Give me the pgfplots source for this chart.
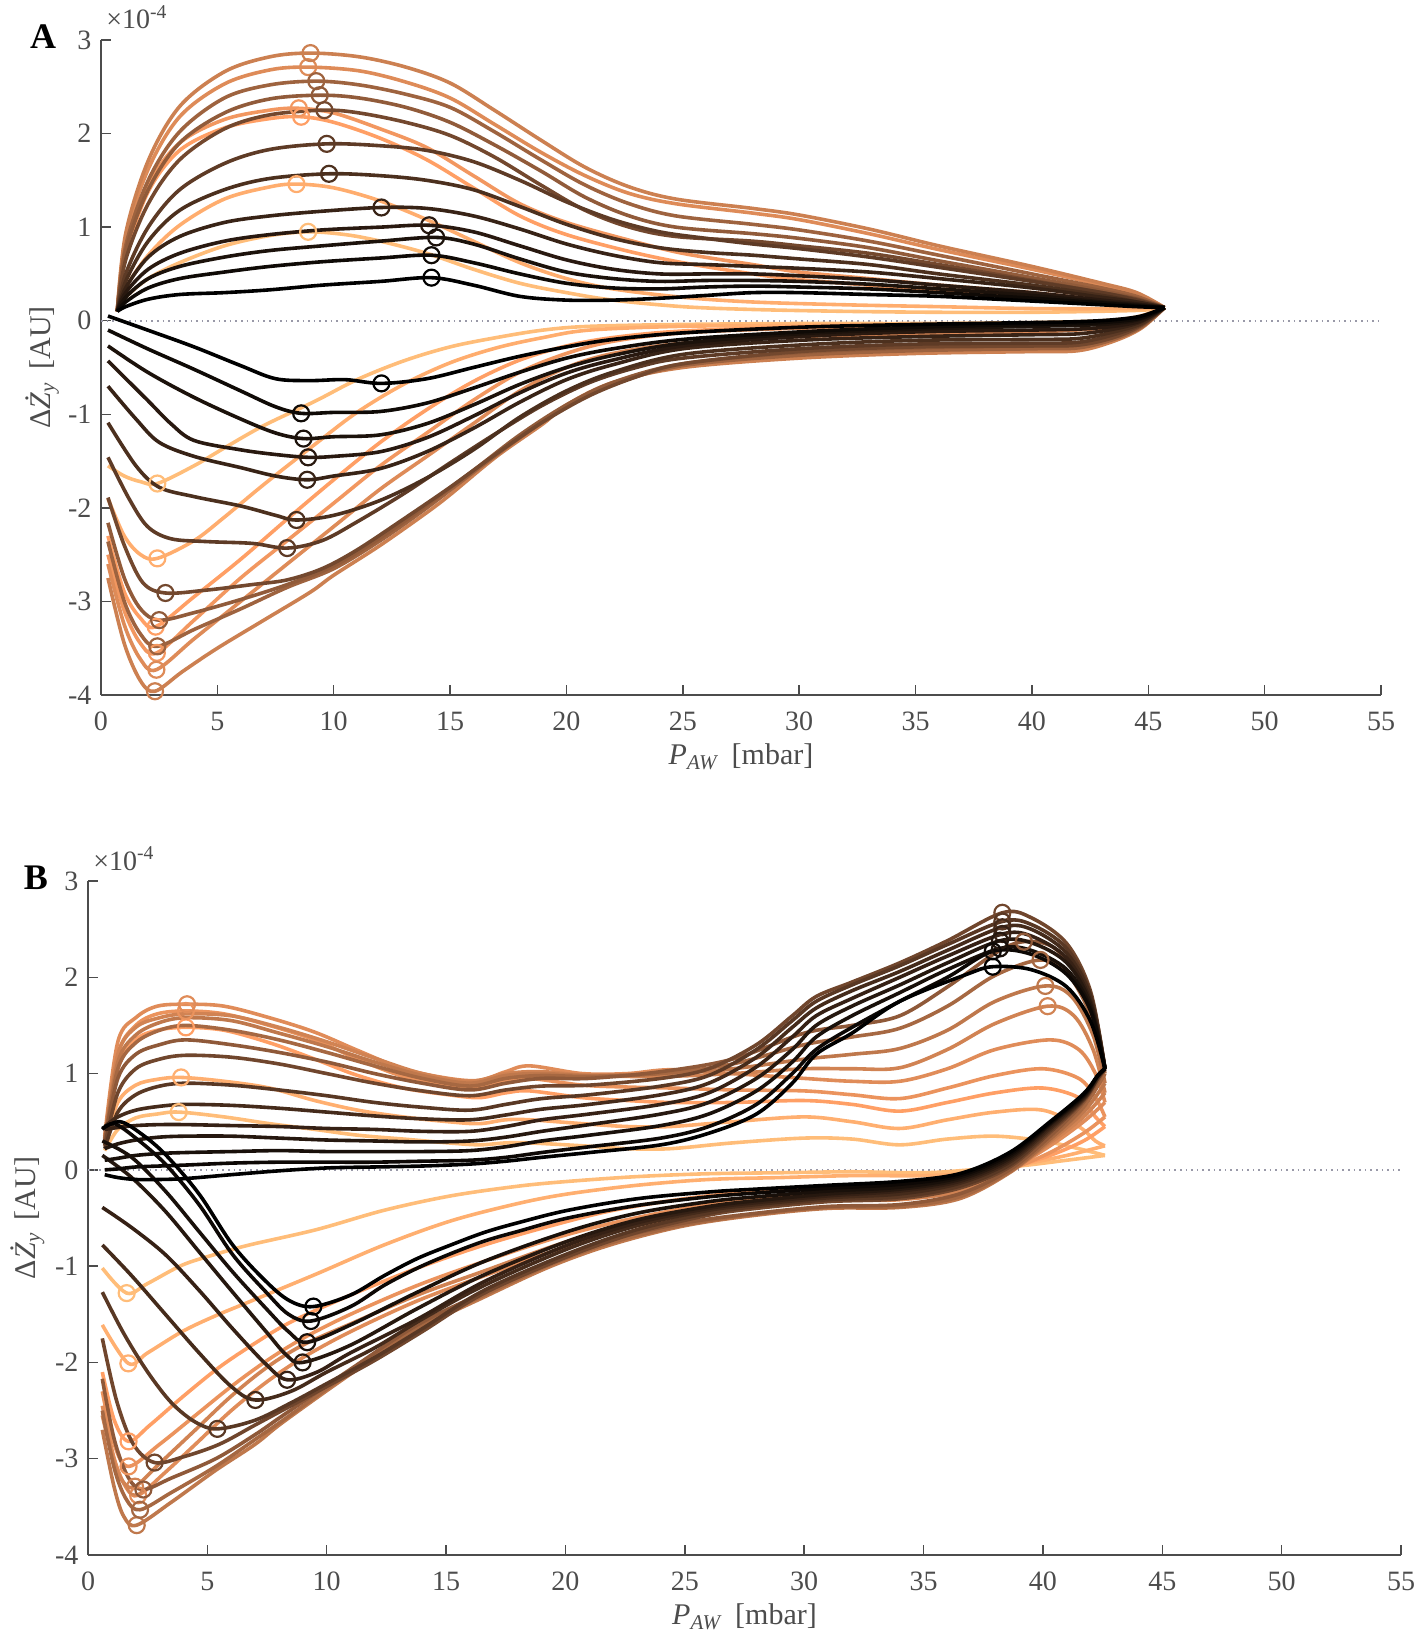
\documentclass[border=0pt]{standalone}
\usepackage{pgfplots}
\pgfplotsset{compat=1.18}
\usepackage{fontspec}
\setmainfont{Liberation Serif}
\definecolor{cuMid}{rgb}{1,0.625,0.398}
\definecolor{cuLight}{rgb}{1,0.7812,0.4975}
\definecolor{axgray}{rgb}{0.3,0.3,0.3}
\definecolor{zerodot}{rgb}{0.6,0.6,0.66}
% panel A colours (copper map)
\colorlet{a0}{black}
\colorlet{a1}{cuMid!6!black}
\colorlet{a2}{cuMid!11!black}
\colorlet{a3}{cuMid!16!black}
\colorlet{a4}{cuMid!22!black}
\colorlet{a5}{cuMid!30!black}
\colorlet{a6}{cuMid!37!black}
\colorlet{a7}{cuMid!45!black}
\colorlet{a8}{cuMid!57!black}
\colorlet{a9}{cuMid!62!black}
\colorlet{a10}{cuMid!80!black}
\colorlet{a11}{cuMid!87!black}
\colorlet{a12}{cuMid!95!black}
\colorlet{a13}{cuMid}
\colorlet{a14}{cuLight!35!cuMid}
\colorlet{a15}{cuLight!75!cuMid}
% panel B colours
\colorlet{b0}{black}
\colorlet{b1}{cuMid!5!black}
\colorlet{b2}{cuMid!10!black}
\colorlet{b3}{cuMid!15!black}
\colorlet{b4}{cuMid!21!black}
\colorlet{b5}{cuMid!27!black}
\colorlet{b6}{cuMid!35!black}
\colorlet{b7}{cuMid!44!black}
\colorlet{b8}{cuMid!56!black}
\colorlet{b9}{cuMid!65!black}
\colorlet{b10}{cuMid!75!black}
\colorlet{b11}{cuMid!82!black}
\colorlet{b12}{cuMid!88!black}
\colorlet{b13}{cuMid!92!black}
\colorlet{b14}{cuMid}
\colorlet{b15}{cuLight!40!cuMid}
\colorlet{b16}{cuLight!75!cuMid}
\pgfplotsset{
  panel/.style={
    scale only axis,
    xmin=0, xmax=55, ymin=-4, ymax=3,
    axis x line*=bottom, axis y line*=left,
    xtick={0,5,10,15,20,25,30,35,40,45,50,55},
    xticklabels={0,5,10,15,20,25,30,35,40,45,50,55},
    ytick={-4,-3,-2,-1,0,1,2,3},
    yticklabels={-4,-3,-2,-1,0,1,2,3},
    tick align=inside,
    major tick length=5pt,
    axis line style={draw=axgray, line width=0.75pt},
    tick style={draw=axgray, line width=0.75pt},
    tick label style={font=\fontsize{14}{16}\selectfont, text=axgray},
    xticklabel style={yshift=-5pt},
    yticklabel style={xshift=-1.3pt},
    xlabel={\textit{P}\textsubscript{\textit{AW}}\, [mbar]},
    ylabel={Δ\textit{Ż}\textsubscript{\textit{y}}\, [AU]},
    xlabel style={at={(axis description cs:0.5,0)}, anchor=north, yshift=-21pt,
      font=\fontsize{15}{18}\selectfont, text=axgray},
    ylabel style={at={(axis description cs:-0.046,0.5)}, anchor=center,
      font=\fontsize{15}{18}\selectfont, text=axgray},
  },
  cv/.style={color=#1, smooth, tension=0.55, line width=1.8pt, mark=none},
  mk/.style={color=#1, only marks, mark=o, mark size=4pt, line width=1.1pt},
}
\newcommand{\C}[2]{\addplot[cv=#1] coordinates {#2};}
\newcommand{\M}[2]{\addplot[mk=#1] coordinates {#2};}
\begin{document}
\begin{tikzpicture}
\useasboundingbox (0,0) rectangle (712.5pt,822pt);
%================ PANEL A ================
\begin{axis}[panel, name=A, at={(50.5pt,474.5pt)}, anchor=south west, width=640pt, height=327.5pt]
\addplot[color=zerodot, dotted, line width=0.8pt] coordinates {(0,0) (55,0)};
% t=1.00
\C{a15}{(0.7,0.1) (1.06,0.25) (2.03,0.45) (3.38,0.62) (5.3,0.8) (7.25,0.91) (8.9,0.95) (10.5,0.92) (12,0.85) (14,0.72) (16,0.55) (18,0.4) (20,0.3) (22,0.22) (25,0.15) (28,0.12) (32,0.1) (36,0.09) (40,0.09) (44.5,0.11) (45.7,0.14)}
\C{a15}{(0.3,-1.55) (1,-1.66) (1.7,-1.72) (2.42,-1.74) (4,-1.55) (5.3,-1.36) (7,-1.12) (9.2,-0.86) (11,-0.63) (13,-0.43) (15,-0.28) (17,-0.18) (19,-0.1) (21,-0.06) (25,-0.04) (30,-0.03) (35,-0.03) (40,-0.02) (43,0.0) (44.5,0.04) (45.7,0.14)}
% t=0.95
\C{a14}{(0.7,0.1) (1.06,0.35) (2.03,0.7) (3.38,1.02) (5.3,1.3) (7.25,1.43) (8.4,1.46) (10,1.42) (12,1.28) (14,1.08) (16,0.85) (18,0.62) (20,0.45) (22,0.34) (25,0.25) (28,0.2) (32,0.17) (36,0.15) (40,0.13) (44.5,0.13) (45.7,0.14)}
\C{a14}{(0.3,-1.9) (1,-2.3) (1.7,-2.5) (2.42,-2.54) (4,-2.35) (5.3,-2.1) (7,-1.75) (9.2,-1.32) (11,-0.98) (13,-0.68) (15,-0.45) (17,-0.29) (19,-0.18) (21,-0.1) (25,-0.06) (30,-0.05) (35,-0.04) (40,-0.03) (43,-0.01) (44.5,0.03) (45.7,0.14)}
% t=0.90
\C{a13}{(0.7,0.1) (1.06,0.7) (2.03,1.38) (3.38,1.82) (5.3,2.06) (7.25,2.16) (8.6,2.18) (10,2.12) (12,1.95) (14,1.72) (16,1.42) (18,1.12) (20,0.92) (22.7,0.74) (25,0.62) (28,0.5) (30,0.44) (33,0.38) (36,0.32) (40,0.25) (43,0.2) (44.5,0.17) (45.7,0.14)}
\C{a13}{(0.3,-2.3) (1,-2.9) (1.7,-3.18) (2.35,-3.27) (4,-2.95) (6,-2.55) (8,-2.12) (10,-1.7) (12,-1.3) (14,-0.95) (16,-0.65) (18,-0.42) (20,-0.27) (22,-0.18) (25,-0.11) (30,-0.07) (35,-0.05) (40,-0.04) (43,-0.02) (44.5,0.03) (45.7,0.14)}
% t=0.85
\C{a12}{(0.7,0.1) (1.06,0.75) (2.03,1.45) (3.38,1.9) (5.3,2.15) (7.25,2.25) (8.5,2.27) (10,2.22) (12,2.05) (14,1.85) (16,1.55) (18,1.25) (20,1.05) (22.7,0.86) (25,0.72) (28,0.6) (30,0.52) (33,0.45) (36,0.38) (40,0.3) (43,0.22) (44.5,0.18) (45.7,0.14)}
\C{a12}{(0.3,-2.5) (1,-3.1) (1.7,-3.45) (2.4,-3.55) (4,-3.2) (6,-2.75) (8,-2.35) (10,-1.95) (12,-1.55) (14,-1.2) (16,-0.85) (18,-0.55) (20,-0.35) (22,-0.22) (25,-0.13) (30,-0.08) (35,-0.06) (40,-0.05) (43,-0.03) (44.5,0.02) (45.7,0.14)}
% t=0.80
\C{a11}{(0.7,0.1) (1.06,0.88) (2.03,1.62) (3.38,2.18) (5.3,2.53) (7.25,2.68) (8.9,2.71) (11.1,2.67) (13.1,2.55) (15,2.38) (16.9,2.1) (18.9,1.8) (20.8,1.55) (22.7,1.36) (24.7,1.25) (28,1.15) (30,1.08) (33,0.93) (36,0.76) (40,0.55) (43,0.38) (44.5,0.28) (45.7,0.14)}
\C{a11}{(0.3,-2.6) (1,-3.25) (1.7,-3.62) (2.38,-3.73) (4,-3.4) (6,-3.0) (8,-2.6) (10,-2.2) (12,-1.8) (14,-1.45) (16,-1.1) (18,-0.75) (20,-0.5) (22,-0.35) (25,-0.24) (30,-0.17) (35,-0.14) (40,-0.12) (43,-0.08) (44.5,-0.02) (45.7,0.14)}
% t=0.75
\C{a10}{(0.7,0.1) (1.06,0.93) (2.03,1.71) (3.38,2.29) (5.3,2.66) (7.25,2.82) (9,2.86) (11.1,2.82) (13.1,2.71) (15,2.54) (16.9,2.25) (18.9,1.93) (20.8,1.64) (22.7,1.43) (24.7,1.3) (28,1.2) (30,1.13) (33,0.98) (36,0.8) (40,0.58) (43,0.4) (44.5,0.3) (45.7,0.14)}
\C{a10}{(0.3,-2.75) (1,-3.45) (1.7,-3.85) (2.32,-3.96) (3.5,-3.75) (5,-3.5) (7,-3.2) (9,-2.9) (10,-2.72) (12,-2.4) (14,-2.05) (15,-1.86) (17,-1.45) (19,-1.1) (20,-0.9) (22,-0.66) (25,-0.5) (30,-0.4) (35,-0.35) (40,-0.33) (42,-0.32) (43.5,-0.22) (44.7,-0.08) (45.7,0.14)}
% t=0.70
\C{a9}{(0.7,0.1) (1.06,0.8) (2.03,1.5) (3.38,2.02) (5.3,2.38) (7.25,2.52) (9.25,2.56) (11.1,2.52) (13.1,2.42) (15,2.28) (16.9,2.02) (18.9,1.72) (20.8,1.45) (22.7,1.25) (24.7,1.12) (28,1.03) (30,0.97) (33,0.85) (36,0.7) (40,0.5) (43,0.35) (44.5,0.26) (45.7,0.14)}
\C{a9}{(0.3,-2.36) (1,-3.0) (1.7,-3.35) (2.42,-3.48) (4,-3.3) (6,-3.08) (8,-2.85) (10,-2.65) (12,-2.35) (14,-2.0) (16,-1.62) (18,-1.25) (20,-0.92) (22,-0.68) (25,-0.48) (30,-0.37) (35,-0.32) (40,-0.3) (42,-0.29) (43.5,-0.2) (44.7,-0.07) (45.7,0.14)}
% t=0.65
\C{a8}{(0.7,0.1) (1.06,0.75) (2.03,1.4) (3.38,1.9) (5.3,2.22) (7.25,2.37) (9.4,2.41) (11.1,2.38) (13.1,2.28) (15,2.12) (16.9,1.88) (18.9,1.6) (20.8,1.32) (22.7,1.12) (24.7,1.0) (28,0.93) (30,0.88) (33,0.78) (36,0.64) (40,0.46) (43,0.32) (44.5,0.24) (45.7,0.14)}
\C{a8}{(0.3,-2.16) (1,-2.75) (1.7,-3.08) (2.5,-3.2) (4,-3.12) (6,-2.98) (8,-2.82) (10,-2.62) (12,-2.32) (14,-1.97) (16,-1.6) (18,-1.22) (20,-0.9) (22,-0.66) (25,-0.46) (30,-0.34) (35,-0.29) (40,-0.27) (42,-0.26) (43.5,-0.18) (44.7,-0.06) (45.7,0.14)}
% t=0.55
\C{a7}{(0.7,0.1) (1.06,0.65) (2.03,1.25) (3.38,1.72) (5.3,2.05) (7.25,2.2) (9.6,2.25) (11.1,2.22) (13.1,2.12) (15,1.98) (16.9,1.75) (18.9,1.45) (20.8,1.18) (22.7,1.0) (24.7,0.9) (28,0.85) (30,0.8) (33,0.72) (36,0.6) (40,0.43) (43,0.3) (44.5,0.23) (45.7,0.14)}
\C{a7}{(0.3,-1.89) (1,-2.4) (1.8,-2.8) (2.77,-2.91) (4.5,-2.88) (6.5,-2.82) (8,-2.77) (9.5,-2.65) (11,-2.45) (13,-2.12) (15,-1.78) (17,-1.42) (19,-1.08) (21,-0.8) (23,-0.6) (25,-0.46) (30,-0.33) (35,-0.28) (40,-0.27) (42,-0.26) (43.5,-0.18) (44.7,-0.05) (45.7,0.14)}
% t=0.45
\C{a6}{(0.7,0.1) (1.06,0.5) (2.03,1.0) (3.38,1.4) (5.3,1.68) (7.25,1.83) (9.7,1.89) (12,1.87) (14,1.82) (16,1.7) (18,1.5) (20,1.27) (22,1.08) (24,0.95) (26,0.88) (28,0.82) (30,0.77) (33,0.68) (36,0.57) (40,0.42) (43,0.3) (44.5,0.22) (45.7,0.14)}
\C{a6}{(0.3,-1.46) (1.2,-1.9) (2,-2.2) (3,-2.33) (4.5,-2.36) (6.5,-2.38) (8,-2.43) (9.5,-2.35) (11,-2.15) (13,-1.85) (15,-1.52) (17,-1.2) (19,-0.9) (21,-0.66) (23,-0.5) (25,-0.4) (30,-0.3) (35,-0.25) (40,-0.24) (42,-0.23) (43.5,-0.15) (44.7,-0.04) (45.7,0.14)}
% t=0.38
\C{a5}{(0.7,0.1) (1.06,0.42) (2.03,0.85) (3.38,1.18) (5.3,1.4) (7.25,1.52) (9.8,1.57) (12,1.55) (14,1.5) (16,1.4) (18,1.22) (20,1.03) (22,0.88) (24,0.78) (26,0.73) (28,0.7) (30,0.66) (33,0.6) (36,0.5) (40,0.38) (43,0.27) (44.5,0.2) (45.7,0.14)}
\C{a5}{(0.3,-1.09) (1.5,-1.55) (2.5,-1.78) (4,-1.88) (6,-1.98) (7.5,-2.08) (8.4,-2.13) (10,-2.08) (12,-1.92) (14,-1.68) (16,-1.38) (18,-1.03) (20,-0.75) (22,-0.55) (25,-0.36) (30,-0.26) (35,-0.21) (40,-0.2) (42,-0.19) (43.5,-0.12) (44.7,-0.03) (45.7,0.14)}
% t=0.30
\C{a4}{(0.7,0.1) (1.06,0.35) (2.03,0.68) (3.38,0.9) (5.3,1.05) (7.25,1.12) (9.5,1.17) (12.05,1.21) (14,1.2) (16,1.12) (18,0.98) (20,0.82) (22,0.7) (24,0.62) (26,0.6) (28,0.58) (30,0.56) (33,0.52) (36,0.45) (40,0.35) (43,0.25) (44.5,0.2) (45.7,0.14)}
\C{a4}{(0.3,-0.7) (1.5,-1.05) (2.5,-1.3) (4,-1.45) (6,-1.57) (7.5,-1.66) (8.86,-1.7) (10,-1.66) (12,-1.58) (14,-1.4) (16,-1.15) (18,-0.87) (20,-0.63) (22,-0.47) (25,-0.3) (30,-0.21) (35,-0.17) (40,-0.15) (42,-0.14) (43.5,-0.09) (44.7,-0.01) (45.7,0.14)}
% t=0.22
\C{a3}{(0.7,0.1) (1.06,0.3) (2.03,0.55) (3.38,0.72) (5.3,0.85) (7.25,0.92) (9.5,0.97) (12,1.0) (14.1,1.02) (16,0.95) (18,0.8) (20,0.65) (22,0.55) (24,0.5) (26,0.5) (28,0.5) (30,0.48) (33,0.44) (36,0.38) (40,0.3) (43,0.22) (44.5,0.18) (45.7,0.14)}
\C{a3}{(0.3,-0.43) (2,-0.85) (3,-1.1) (4,-1.28) (6,-1.38) (7.5,-1.43) (8.9,-1.46) (10,-1.45) (12,-1.4) (14,-1.25) (16,-1.02) (18,-0.77) (20,-0.56) (22,-0.42) (25,-0.27) (30,-0.17) (35,-0.12) (40,-0.1) (42,-0.09) (43.5,-0.06) (44.7,0.0) (45.7,0.14)}
% t=0.16
\C{a2}{(0.7,0.1) (1.06,0.25) (2.03,0.45) (3.38,0.58) (5.3,0.68) (7.25,0.75) (9.5,0.8) (12,0.85) (14.4,0.89) (16,0.82) (18,0.66) (20,0.52) (22,0.45) (24,0.42) (26,0.43) (28,0.43) (30,0.42) (33,0.39) (36,0.34) (40,0.27) (43,0.2) (44.5,0.17) (45.7,0.14)}
\C{a2}{(0.3,-0.27) (2,-0.55) (4,-0.82) (6,-1.05) (7.5,-1.2) (8.7,-1.26) (10,-1.24) (12,-1.22) (14,-1.1) (16,-0.9) (18,-0.68) (20,-0.5) (22,-0.37) (25,-0.24) (30,-0.14) (35,-0.09) (40,-0.06) (42,-0.05) (43.5,-0.03) (44.7,0.02) (45.7,0.14)}
% t=0.08
\C{a1}{(0.7,0.1) (1.06,0.2) (2.03,0.35) (3.38,0.45) (5.3,0.52) (7.25,0.58) (9.5,0.63) (12,0.67) (14.2,0.7) (16,0.62) (18,0.5) (20,0.4) (22,0.35) (24,0.34) (26,0.36) (28,0.37) (30,0.36) (33,0.34) (36,0.3) (40,0.24) (43,0.19) (44.5,0.16) (45.7,0.14)}
\C{a1}{(0.3,-0.1) (2,-0.3) (4,-0.52) (6,-0.75) (7.5,-0.92) (8.6,-0.99) (10,-0.98) (12,-0.97) (14,-0.88) (16,-0.72) (18,-0.55) (20,-0.4) (22,-0.3) (25,-0.2) (30,-0.12) (35,-0.07) (40,-0.04) (42,-0.03) (43.5,-0.01) (44.7,0.03) (45.7,0.14)}
% t=0
\C{a0}{(0.7,0.1) (1.06,0.15) (2.03,0.23) (3.38,0.28) (5.3,0.3) (7.25,0.33) (9.5,0.38) (12,0.42) (14.2,0.46) (16,0.38) (18,0.26) (20,0.22) (22,0.22) (24,0.24) (26,0.27) (28,0.3) (30,0.3) (33,0.28) (36,0.26) (40,0.21) (43,0.17) (44.5,0.15) (45.7,0.14)}
\C{a0}{(0.3,0.05) (2,-0.1) (4,-0.28) (6,-0.48) (7.5,-0.62) (9,-0.64) (10.5,-0.63) (12.05,-0.67) (14,-0.62) (16,-0.5) (18,-0.38) (20,-0.28) (22,-0.2) (25,-0.13) (30,-0.07) (35,-0.04) (40,-0.02) (42,-0.01) (43.5,0.01) (44.7,0.05) (45.7,0.14)}
% markers A
\M{a15}{(8.9,0.95)} \M{a15}{(2.42,-1.74)}
\M{a14}{(8.4,1.46)} \M{a14}{(2.42,-2.54)}
\M{a13}{(8.6,2.18)} \M{a13}{(2.35,-3.27)}
\M{a12}{(8.5,2.27)} \M{a12}{(2.4,-3.55)}
\M{a11}{(8.9,2.71)} \M{a11}{(2.38,-3.73)}
\M{a10}{(9,2.86)} \M{a10}{(2.32,-3.96)}
\M{a9}{(9.25,2.56)} \M{a9}{(2.42,-3.48)}
\M{a8}{(9.4,2.41)} \M{a8}{(2.5,-3.2)}
\M{a7}{(9.6,2.25)} \M{a7}{(2.77,-2.91)}
\M{a6}{(9.7,1.89)} \M{a6}{(8,-2.43)}
\M{a5}{(9.8,1.57)} \M{a5}{(8.4,-2.13)}
\M{a4}{(12.05,1.21)} \M{a4}{(8.86,-1.7)}
\M{a3}{(14.1,1.02)} \M{a3}{(8.9,-1.46)}
\M{a2}{(14.4,0.89)} \M{a2}{(8.7,-1.26)}
\M{a1}{(14.2,0.7)} \M{a1}{(8.6,-0.99)}
\M{a0}{(14.2,0.46)} \M{a0}{(12.05,-0.67)}
\end{axis}
\node[font=\fontsize{18}{20}\selectfont\bfseries] at (21.6pt,803.5pt) {A};
\node[anchor=base west, inner sep=0pt, font=\fontsize{14}{16}\selectfont, text=axgray] at ([xshift=2.5pt,yshift=5.5pt]A.north west) {×10\textsuperscript{-4}};
%================ PANEL B ================
\begin{axis}[panel, name=B, at={(44pt,44.5pt)}, anchor=south west, width=656.5pt, height=337pt]
\addplot[color=zerodot, dotted, line width=0.8pt] coordinates {(0,0) (55,0)};
% t=1.00
\C{b16}{(0.7,0.2) (1.25,0.42) (2,0.54) (2.9,0.58) (3.8,0.6) (5.7,0.55) (7.6,0.48) (9.5,0.42) (11.3,0.36) (13.2,0.32) (15.1,0.28) (16.4,0.26) (17.5,0.28) (18.5,0.28) (20.7,0.25) (22.6,0.22) (24.4,0.22) (27,0.28) (30,0.33) (32,0.32) (34,0.26) (36,0.32) (38,0.35) (40,0.3) (41.5,0.22) (42.6,0.15)}
\C{b16}{(0.6,-1.02) (1.62,-1.28) (2.5,-1.18) (3.94,-0.99) (5.3,-0.88) (6.76,-0.78) (9.58,-0.62) (12.4,-0.42) (15.2,-0.27) (18,-0.17) (20.1,-0.12) (23,-0.07) (26,-0.04) (29,-0.03) (32,-0.02) (35,-0.03) (37,0.0) (39,0.04) (41,0.1) (42.6,0.15)}
% t=0.95
\C{b15}{(0.7,0.25) (1.25,0.7) (2,0.88) (2.9,0.94) (3.9,0.96) (5.7,0.92) (7.6,0.85) (9.5,0.72) (11.3,0.62) (13.2,0.55) (15.1,0.5) (16.4,0.48) (17.5,0.52) (18.5,0.52) (20.7,0.48) (22.6,0.45) (24.4,0.45) (27,0.5) (30,0.55) (32,0.5) (34,0.43) (36,0.52) (38,0.6) (40,0.62) (41.5,0.45) (42.2,0.3) (42.6,0.25)}
\C{b15}{(0.6,-1.61) (1.69,-2.01) (2.5,-1.9) (3.94,-1.68) (5.3,-1.52) (6.76,-1.37) (9.58,-1.08) (12.4,-0.78) (15.2,-0.53) (18,-0.35) (20.1,-0.25) (23,-0.16) (26,-0.1) (29,-0.08) (32,-0.06) (35,-0.06) (37,-0.03) (39,0.05) (41,0.15) (42.6,0.25)}
% t=0.88
\C{b14}{(0.7,0.28) (1.25,1.05) (2,1.35) (2.9,1.45) (4.1,1.48) (5.7,1.45) (7.6,1.32) (9.5,1.15) (11.3,0.98) (13.2,0.85) (15.1,0.78) (16.4,0.75) (17.5,0.8) (18.5,0.82) (20.7,0.75) (22.6,0.72) (24.4,0.7) (27,0.7) (30,0.72) (32,0.68) (34,0.61) (36,0.7) (38,0.8) (40,0.85) (41.5,0.75) (42.2,0.55) (42.6,0.45)}
\C{b14}{(0.6,-2.1) (1.1,-2.6) (1.7,-2.82) (2.6,-2.65) (4,-2.35) (5.5,-2.05) (7,-1.8) (8.5,-1.58) (11,-1.3) (13.8,-1.02) (16.6,-0.78) (19.4,-0.58) (22,-0.42) (25,-0.3) (28,-0.22) (31,-0.18) (34,-0.17) (36.5,-0.12) (38.6,0.02) (40.3,0.15) (41.7,0.3) (42.6,0.45)}
% t=0.85
\C{b13}{(0.7,0.3) (1.25,1.2) (2,1.5) (2.9,1.62) (4.1,1.65) (5.7,1.62) (7.6,1.5) (9.5,1.35) (11.3,1.15) (13.2,0.97) (15.1,0.87) (16.4,0.85) (17.5,0.92) (18.5,0.95) (20.7,0.88) (22.6,0.86) (24.4,0.85) (27,0.83) (30,0.82) (32,0.78) (34,0.74) (36,0.85) (38,0.98) (40,1.05) (41.5,0.95) (42.2,0.75) (42.6,0.55)}
\C{b13}{(0.6,-2.3) (1.1,-2.85) (1.7,-3.08) (3,-2.85) (4.5,-2.55) (6,-2.25) (7.5,-1.98) (9,-1.75) (11,-1.5) (13.8,-1.2) (16.6,-0.95) (19.4,-0.72) (22,-0.55) (25,-0.4) (28,-0.3) (31,-0.25) (34,-0.25) (36.5,-0.18) (38.6,0.0) (40.3,0.18) (41.7,0.38) (42.6,0.55)}
% t=0.82
\C{b12}{(0.7,0.35) (1.25,1.33) (2,1.58) (2.9,1.7) (4.15,1.72) (5.7,1.7) (7.6,1.58) (9.5,1.43) (11.3,1.24) (13.2,1.05) (15.1,0.95) (16.4,0.93) (17.5,1.02) (18.5,1.08) (20.7,1.0) (22.6,1.0) (24.4,1.04) (27,1.0) (30,0.95) (32,0.92) (34,0.92) (36,1.05) (38,1.25) (40.3,1.35) (41.5,1.25) (42.2,1.0) (42.6,0.7)}
\C{b12}{(0.6,-2.45) (1.1,-3.0) (1.6,-3.3) (2.1,-3.38) (3.2,-3.15) (4.5,-2.85) (6,-2.5) (7.5,-2.2) (9,-1.95) (11,-1.68) (13.8,-1.36) (16.6,-1.1) (19.4,-0.85) (22,-0.64) (25,-0.48) (28,-0.38) (31,-0.32) (34,-0.31) (36.5,-0.22) (38.6,0.0) (40.3,0.25) (41.7,0.5) (42.6,0.7)}
% t=0.78
\C{b11}{(0.7,0.33) (1.25,1.2) (2,1.48) (3,1.58) (4.1,1.62) (6,1.6) (8,1.48) (10,1.33) (12,1.16) (14,1.0) (16,0.92) (17.5,1.0) (19,1.02) (21,0.98) (24,0.97) (27,1.0) (30,1.05) (32,1.05) (34,1.06) (36,1.25) (38,1.52) (40.2,1.7) (41.3,1.6) (42.1,1.25) (42.6,0.8)}
\C{b11}{(0.6,-2.55) (1.1,-3.05) (1.5,-3.25) (1.97,-3.29) (3,-3.05) (4.5,-2.7) (6,-2.35) (7.5,-2.05) (9,-1.82) (11,-1.6) (13.8,-1.3) (16.6,-1.05) (19.4,-0.8) (22,-0.6) (25,-0.45) (28,-0.35) (31,-0.3) (34,-0.3) (36.5,-0.22) (38.6,0.0) (40.3,0.28) (41.7,0.55) (42.6,0.8)}
% t=0.71
\C{b10}{(0.7,0.32) (1.25,1.12) (2,1.4) (3,1.53) (4.1,1.58) (6,1.55) (8,1.42) (10,1.28) (12,1.12) (14,0.98) (16,0.9) (17.5,0.98) (19,1.0) (21,0.98) (24,1.0) (27,1.05) (30,1.15) (32,1.2) (34,1.26) (36,1.45) (38,1.75) (40.1,1.91) (41.2,1.8) (42.1,1.4) (42.6,0.9)}
\C{b10}{(0.6,-2.7) (1.1,-3.3) (1.5,-3.6) (2.04,-3.69) (3.5,-3.45) (5.35,-3.12) (7,-2.85) (8.17,-2.62) (11,-2.12) (13.8,-1.66) (16.6,-1.32) (19.4,-1.0) (22,-0.77) (25,-0.58) (28,-0.47) (31,-0.4) (34,-0.39) (36.5,-0.3) (38.6,-0.03) (40.3,0.3) (41.7,0.6) (42.6,0.9)}
% t=0.64
\C{b9}{(0.7,0.3) (1.25,1.05) (2,1.32) (3,1.45) (4.1,1.5) (6,1.45) (8,1.35) (10,1.22) (12,1.08) (14,0.95) (16,0.87) (17.5,0.95) (19,0.98) (21,0.97) (24,1.0) (27,1.1) (30,1.3) (32,1.38) (34,1.47) (36,1.7) (38,2.02) (39.9,2.18) (41,2.05) (42,1.6) (42.6,1.0)}
\C{b9}{(0.6,-2.5) (1.1,-3.1) (1.6,-3.42) (2.18,-3.53) (3.5,-3.35) (5.35,-3.08) (7,-2.8) (8.17,-2.6) (11,-2.1) (13.8,-1.64) (16.6,-1.3) (19.4,-0.98) (22,-0.75) (25,-0.57) (28,-0.46) (31,-0.39) (34,-0.38) (36.5,-0.28) (38.6,-0.02) (40.3,0.32) (41.7,0.65) (42.6,1.0)}
% t=0.57
\C{b8}{(0.7,0.3) (1.25,0.95) (2,1.2) (3,1.3) (4.1,1.35) (6,1.3) (8,1.22) (10,1.12) (12,1.0) (14,0.9) (16,0.83) (17.5,0.9) (19,0.95) (21,0.95) (24,1.02) (27,1.15) (30,1.42) (32,1.5) (34,1.6) (36,1.9) (38,2.25) (39.2,2.37) (40.5,2.3) (41.7,1.9) (42.6,1.05)}
\C{b8}{(0.6,-2.17) (1.1,-2.8) (1.7,-3.2) (2.32,-3.32) (3.5,-3.2) (5.35,-3.0) (7,-2.75) (8.17,-2.55) (11,-2.07) (13.8,-1.61) (16.6,-1.27) (19.4,-0.95) (22,-0.72) (25,-0.55) (28,-0.45) (31,-0.38) (34,-0.36) (36.5,-0.25) (38.6,0.0) (40.3,0.35) (41.7,0.7) (42.6,1.05)}
% t=0.50
\C{b7}{(0.7,0.25) (1.25,0.8) (2,1.05) (3,1.15) (4.1,1.19) (6,1.17) (8,1.1) (10,1.0) (12,0.9) (14,0.82) (16,0.77) (17.5,0.83) (19,0.87) (21,0.88) (24,0.95) (26,1.05) (28,1.3) (29.5,1.6) (30.5,1.8) (32,1.95) (34,2.15) (36,2.38) (38.3,2.67) (39.5,2.62) (41,2.35) (42,1.85) (42.6,1.05)}
\C{b7}{(0.6,-1.75) (1.2,-2.4) (1.9,-2.85) (2.79,-3.04) (4,-2.98) (5.5,-2.85) (7,-2.65) (8.5,-2.45) (10,-2.25) (12,-1.98) (14,-1.68) (16.6,-1.28) (20.1,-0.9) (23,-0.65) (26,-0.47) (28,-0.4) (31,-0.33) (34,-0.3) (36.5,-0.19) (38.6,0.03) (40.3,0.39) (41.7,0.72) (42.3,0.95) (42.6,1.05)}
% t=0.43
\C{b6}{(0.7,0.22) (1.25,0.6) (2,0.78) (3,0.87) (4.1,0.9) (6,0.88) (8,0.83) (10,0.77) (12,0.7) (14,0.65) (16,0.62) (17.5,0.68) (19,0.74) (21,0.78) (24,0.87) (26,0.98) (28,1.25) (29.5,1.55) (30.5,1.75) (32,1.92) (34,2.12) (36,2.34) (38.3,2.58) (39.5,2.55) (41,2.3) (42,1.82) (42.6,1.05)}
\C{b6}{(0.6,-1.27) (1.5,-1.7) (2.5,-2.1) (3.5,-2.42) (4.5,-2.62) (5.42,-2.69) (7,-2.6) (8.5,-2.42) (10,-2.22) (12,-1.95) (14,-1.65) (16.6,-1.25) (20.1,-0.87) (23,-0.62) (26,-0.45) (28,-0.38) (31,-0.31) (34,-0.28) (36.5,-0.17) (38.6,0.05) (40.3,0.41) (41.7,0.73) (42.3,0.95) (42.6,1.05)}
% t=0.35
\C{b5}{(0.7,0.45) (1.25,0.55) (2,0.62) (3,0.66) (4.1,0.68) (6,0.67) (8,0.64) (10,0.6) (12,0.56) (14,0.53) (16,0.52) (17.5,0.57) (19,0.63) (21,0.68) (24,0.78) (26,0.9) (28,1.17) (29.5,1.48) (30.5,1.68) (32,1.86) (34,2.06) (36,2.28) (38.3,2.52) (39.5,2.5) (41,2.25) (42,1.8) (42.6,1.05)}
\C{b5}{(0.6,-0.78) (1.83,-1.1) (3.24,-1.5) (4.65,-1.9) (6,-2.25) (7.01,-2.39) (8.5,-2.3) (10,-2.1) (12,-1.85) (14,-1.55) (16.6,-1.2) (20.1,-0.82) (23,-0.58) (26,-0.42) (28,-0.36) (31,-0.29) (34,-0.25) (36.5,-0.14) (38.6,0.08) (40.3,0.43) (41.7,0.74) (42.3,0.96) (42.6,1.05)}
% t=0.28
\C{b4}{(0.7,0.42) (1.25,0.44) (2,0.46) (3,0.47) (4.1,0.47) (6,0.46) (8,0.45) (10,0.43) (12,0.42) (14,0.4) (16,0.4) (17.5,0.45) (19,0.52) (21,0.58) (24,0.68) (26,0.8) (28,1.07) (29.5,1.38) (30.5,1.6) (32,1.78) (34,2.0) (36,2.22) (38.3,2.45) (39.5,2.43) (41,2.2) (42,1.75) (42.6,1.05)}
\C{b4}{(0.6,-0.39) (1.83,-0.6) (3.24,-0.88) (4.65,-1.25) (6.06,-1.65) (7.46,-2.02) (8.34,-2.18) (9.6,-2.1) (11,-1.9) (13.8,-1.55) (16.6,-1.16) (20.1,-0.78) (23,-0.55) (26,-0.4) (28,-0.34) (31,-0.27) (34,-0.22) (36.5,-0.12) (38.6,0.1) (40.3,0.45) (41.7,0.75) (42.3,0.97) (42.6,1.05)}
% t=0.21
\C{b3}{(0.7,0.22) (1.25,0.27) (2,0.31) (3,0.34) (4.1,0.35) (6,0.35) (8,0.33) (10,0.31) (12,0.3) (14,0.29) (16,0.3) (17.5,0.34) (19,0.4) (21,0.47) (24,0.58) (26,0.7) (28,0.95) (29.5,1.25) (30.5,1.5) (32,1.7) (34,1.92) (36,2.15) (38.2,2.38) (39.5,2.36) (41,2.15) (42,1.72) (42.6,1.05)}
\C{b3}{(0.6,0.15) (1.83,-0.08) (3.24,-0.43) (4.65,-0.85) (6.06,-1.27) (7.46,-1.68) (8.3,-1.92) (8.99,-2.0) (11,-1.82) (13.8,-1.44) (16.6,-1.09) (20.1,-0.74) (23,-0.52) (26,-0.38) (28,-0.32) (31,-0.25) (34,-0.2) (36.5,-0.1) (38.6,0.12) (40.3,0.47) (41.7,0.76) (42.3,0.98) (42.6,1.05)}
% t=0.14
\C{b2}{(0.7,0.1) (1.25,0.12) (2,0.15) (3,0.17) (4.1,0.18) (6,0.19) (8,0.2) (10,0.19) (12,0.19) (14,0.19) (16,0.2) (17.5,0.24) (19,0.3) (21,0.36) (24,0.46) (26,0.58) (28,0.82) (29.5,1.12) (30.5,1.38) (32,1.6) (34,1.84) (36,2.08) (38.2,2.3) (39.5,2.28) (41,2.08) (42,1.68) (42.6,1.05)}
\C{b2}{(0.6,0.3) (1.83,0.13) (3.24,-0.22) (4.65,-0.64) (6.06,-1.06) (7.46,-1.44) (8.4,-1.68) (9.18,-1.79) (11,-1.61) (13.8,-1.27) (16.6,-0.95) (20.1,-0.64) (23,-0.45) (26,-0.33) (28,-0.28) (31,-0.22) (34,-0.18) (36.5,-0.08) (38.6,0.14) (40.3,0.48) (41.7,0.77) (42.3,0.98) (42.6,1.05)}
% t=0.07
\C{b1}{(0.7,0.0) (1.25,0.01) (2,0.03) (3,0.04) (4.1,0.05) (6,0.07) (8,0.08) (10,0.08) (12,0.08) (14,0.09) (16,0.1) (17.5,0.13) (19,0.18) (21,0.24) (24,0.33) (26,0.45) (28,0.68) (29.5,1.0) (30.5,1.25) (32,1.48) (34,1.75) (36,2.0) (37.9,2.27) (39.5,2.24) (41,2.03) (42,1.65) (42.6,1.05)}
\C{b1}{(0.6,0.42) (1.1,0.48) (2,0.33) (3.24,0.06) (4.65,-0.36) (6.06,-0.88) (7.46,-1.27) (8.4,-1.5) (9.34,-1.57) (11,-1.42) (12.4,-1.2) (13.8,-1.02) (15.2,-0.87) (16.6,-0.74) (18,-0.64) (20.1,-0.5) (23,-0.37) (26,-0.28) (28,-0.24) (31,-0.19) (34,-0.15) (36.5,-0.06) (38.6,0.16) (40.3,0.49) (41.7,0.78) (42.3,0.98) (42.6,1.05)}
% t=0
\C{b0}{(0.7,-0.05) (1.25,-0.08) (2,-0.1) (3,-0.1) (4.1,-0.09) (6,-0.05) (8,-0.01) (10,0.02) (12,0.03) (14,0.04) (16,0.06) (17.5,0.09) (19,0.13) (21,0.18) (24,0.26) (26,0.38) (28,0.58) (29.5,0.9) (30.5,1.2) (32,1.42) (34,1.75) (36.8,2.03) (37.9,2.11) (39.5,2.08) (41,1.9) (42,1.54) (42.6,1.05)}
\C{b0}{(0.6,0.43) (1.34,0.5) (2.2,0.38) (3.24,0.16) (4.65,-0.25) (6.06,-0.78) (7.46,-1.16) (8.45,-1.36) (9.44,-1.42) (11,-1.3) (12.4,-1.1) (13.8,-0.92) (15.2,-0.78) (16.6,-0.65) (18,-0.55) (20.1,-0.42) (23,-0.3) (26,-0.23) (28,-0.2) (31,-0.16) (34,-0.12) (36.5,-0.04) (38.6,0.18) (40.3,0.5) (41.7,0.79) (42.3,0.98) (42.6,1.05)}
% markers B
\M{b16}{(3.8,0.6)} \M{b16}{(1.62,-1.28)}
\M{b15}{(3.9,0.96)} \M{b15}{(1.69,-2.01)}
\M{b14}{(4.1,1.48)} \M{b14}{(1.7,-2.82)}
\M{b13}{(4.1,1.65)} \M{b13}{(1.7,-3.08)}
\M{b12}{(4.15,1.72)} \M{b12}{(2.1,-3.38)}
\M{b11}{(40.2,1.7)} \M{b11}{(1.97,-3.29)}
\M{b10}{(40.1,1.91)} \M{b10}{(2.04,-3.69)}
\M{b9}{(39.9,2.18)} \M{b9}{(2.18,-3.53)}
\M{b8}{(39.2,2.37)} \M{b8}{(2.32,-3.32)}
\M{b7}{(38.3,2.67)} \M{b7}{(2.79,-3.04)}
\M{b6}{(38.3,2.58)} \M{b6}{(5.42,-2.69)}
\M{b5}{(38.3,2.52)} \M{b5}{(7.01,-2.39)}
\M{b4}{(38.3,2.45)} \M{b4}{(8.34,-2.18)}
\M{b3}{(38.2,2.38)} \M{b3}{(8.99,-2.0)}
\M{b2}{(38.2,2.3)} \M{b2}{(9.18,-1.79)}
\M{b1}{(37.9,2.27)} \M{b1}{(9.34,-1.57)}
\M{b0}{(37.9,2.11)} \M{b0}{(9.44,-1.42)}
\end{axis}
\node[font=\fontsize{18}{20}\selectfont\bfseries] at (18pt,383pt) {B};
\node[anchor=base west, inner sep=0pt, font=\fontsize{14}{16}\selectfont, text=axgray] at ([xshift=2.5pt,yshift=5.5pt]B.north west) {×10\textsuperscript{-4}};
\end{tikzpicture}
\end{document}
